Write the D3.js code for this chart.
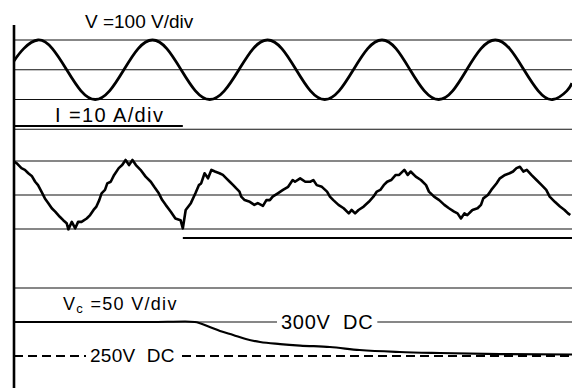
<!DOCTYPE html>
<html>
<head>
<meta charset="utf-8">
<script src="https://cdn.jsdelivr.net/npm/d3@7"></script>
<style>
  html, body { margin: 0; padding: 0; background: #fff; }
  text { font-family: "Liberation Sans", Arial, sans-serif; fill: #000; white-space: pre; }
</style>
</head>
<body>
<div id="chart"></div>
<script>
// time axis, ms (50 Hz supply -> 20 ms per cycle)
const timeRange = [0, 97.5]

// supply voltage, V (100 V/div)
const vTime = [0, 1.7, 4.2, 6.7, 9.2, 11.7, 14.2, 16.7, 19.2, 21.7, 24.2, 26.7, 29.2, 31.7, 34.2, 36.75, 39.3, 41.8, 44.3, 46.8, 49.3, 51.8, 54.3, 56.8, 59.3, 61.8, 64.3, 66.75, 69.2, 71.7, 74.2, 76.65, 79.1, 81.6, 84.1, 86.6, 89.1, 91.6, 94.1, 96.6, 97.5]
const vVolts = [30, 71, 100, 71, 0, -71, -100, -71, 0, 71, 100, 71, 0, -71, -100, -71, 0, 71, 100, 71, 0, -71, -100, -71, 0, 71, 100, 71, 0, -71, -100, -71, 0, 71, 100, 71, 0, -71, -100, -71, -45]

// line current, A (10 A/div)
const iTime = [0, 0.5, 1.3, 1.9, 2.5, 3.1, 3.7, 4.2, 4.8, 5.4, 6.0, 6.6, 7.2, 8.0, 8.6, 9.2, 9.5, 10.1, 10.7, 11.2, 11.8, 12.7, 13.3, 13.9, 14.4, 14.9, 15.3, 15.9,
  16.3, 16.9, 17.5, 18.3, 18.9, 19.5, 20.1, 20.7, 21.3, 22.1, 23.0, 23.9, 24.5, 25.3, 25.9, 26.5, 27.4, 28.2, 29.1, 29.5, 30.0, 30.9, 31.7, 32.3,
  32.7, 33.3, 33.9, 34.5, 35.1, 35.9, 36.5, 37.1, 37.7, 38.3, 38.8, 39.4, 39.7, 40.3, 41.2, 42.0, 42.6, 43.5, 44.1, 44.7, 45.2, 46.1, 47.0, 47.9, 48.7,
  49.1, 50.0, 50.9, 51.8, 52.3, 52.9, 53.8, 54.7, 55.2, 55.8, 56.7, 57.6, 58.5, 59.0, 59.6, 60.2, 61.1, 62.0, 62.8, 63.4, 64.0, 64.6, 65.2,
  65.9, 66.7, 67.3, 68.2, 68.8, 69.3, 70.2, 71.1, 72.0, 72.5, 73.4, 74.3, 75.2, 76.0, 76.9, 77.5, 78.1, 78.7, 79.2, 80.1, 81.0, 81.6,
  82.0, 82.8, 83.4, 84.3, 84.9, 85.8, 86.6, 87.2, 87.8, 88.4, 89.0, 89.6, 90.4, 91.3, 92.2, 93.0, 93.6, 94.5, 95.4, 96.2, 96.8, 97.2]
const iAmps = [9.8, 9.3, 7.9, 7.4, 6.4, 5.6, 3.9, 2.9, 1.0, -1.0, -2.4, -3.9, -4.9, -6.4, -7.4, -8.3, -10.1, -7.9, -9.8, -7.9, -7.9, -6.9, -5.9, -4.4, -3.4, -1.5, 0.5, 1.5,
  3.4, 3.9, 5.9, 7.9, 8.8, 10.3, 8.8, 10.3, 8.8, 7.4, 5.4, 3.9, 2.4, 0.5, -1.5, -2.9, -4.9, -6.9, -7.4, -9.8, -4.4, -2.4, 0.5, 2.9,
  3.4, 6.4, 4.9, 7.4, 6.9, 6.4, 5.9, 4.9, 3.9, 2.9, 2.0, 1.0, -0.5, -1.5, -2.0, -2.9, -2.4, -3.2, -1.5, -1.5, -0.5, 0.5, 1.5, 2.4, 4.4,
  3.9, 4.9, 3.9, 3.9, 4.4, 2.9, 2.4, 1.0, -0.5, -1.5, -2.9, -3.9, -5.4, -4.4, -5.4, -4.4, -3.4, -2.0, -0.5, 1.0, 1.5, 2.9, 3.9,
  4.4, 5.9, 5.9, 7.4, 5.9, 6.9, 5.4, 4.4, 2.9, 1.0, -0.5, -1.5, -2.9, -3.9, -4.9, -5.4, -6.9, -5.4, -5.9, -4.4, -3.9, -2.9,
  -1.0, 0, 1.5, 3.4, 4.9, 5.9, 6.4, 6.9, 7.9, 8.3, 6.9, 7.4, 5.9, 4.4, 2.9, 1.5, -0.5, -2.0, -3.4, -4.4, -5.4, -5.9]

// dc link voltage, V (50 V/div)
const vcTime = [0, 23.8, 29.9, 31.6, 34.2, 36.0, 38.3, 40.5, 43.0, 46.5, 50.0, 55.2, 60.4, 67.4, 74.4, 84.9, 97.5]
const vcVolts = [300, 300, 300.7, 300, 292.6, 286.8, 280.9, 275, 270.6, 267.6, 265.4, 263.2, 258.8, 255.9, 254.4, 252.9, 252.2]

// switching signal: on until the step, off afterwards
const gateTime = [0, 29.5, 97.5]
const gateLevel = [1, 0]

// grid divisions per channel
const vGrid = [100, 0, -100, -200]
const iGrid = [10, 0, -10]
const vcGrid = [350, 300]
const vcRef = 250

const width = 572, height = 388

const svg = d3.select('#chart').append('svg')
  .attr('width', width)
  .attr('height', height)

const x = d3.scaleLinear().domain(timeRange).range([14, 572])
const yV = d3.scaleLinear().domain([-100, 100]).range([99.5, 40])
const yI = d3.scaleLinear().domain([-10, 10]).range([229, 161])
const yVc = d3.scaleLinear().domain([250, 350]).range([356, 288])
const yGate = d3.scaleLinear().domain([0, 1]).range([238, 126])

// grid lines
const grid = svg.append('g').attr('stroke', '#111').attr('stroke-width', 1.2)
const gridRows = [].concat(vGrid.map(yV), iGrid.map(yI), vcGrid.map(yVc))
grid.selectAll('line')
  .data(gridRows)
  .enter().append('line')
  .attr('x1', x(timeRange[0]))
  .attr('x2', x(timeRange[1]))
  .attr('y1', d => d)
  .attr('y2', d => d)

// 250 V reference (dashed)
svg.append('line')
  .attr('x1', x(timeRange[0])).attr('x2', x(timeRange[1]))
  .attr('y1', yVc(vcRef)).attr('y2', yVc(vcRef))
  .attr('stroke', '#000').attr('stroke-width', 1.8)
  .attr('stroke-dasharray', '9,5')

// switching signal
svg.append('g').selectAll('line')
  .data(gateLevel)
  .enter().append('line')
  .attr('x1', (d, i) => x(gateTime[i]))
  .attr('x2', (d, i) => x(gateTime[i + 1]))
  .attr('y1', d => yGate(d))
  .attr('y2', d => yGate(d))
  .attr('stroke', '#000')
  .attr('stroke-width', 2.2)

// traces
const trace = (ts, vs, ys, curve, w) => {
  const line = d3.line()
    .x(d => x(d[0]))
    .y(d => ys(d[1]))
    .curve(curve)
  svg.append('path')
    .datum(d3.zip(ts, vs))
    .attr('d', line)
    .attr('fill', 'none')
    .attr('stroke', '#000')
    .attr('stroke-width', w)
    .attr('stroke-linejoin', 'round')
}
trace(vTime, vVolts, yV, d3.curveNatural, 2.8)
trace(iTime, iAmps, yI, d3.curveLinear, 2.6)
trace(vcTime, vcVolts, yVc, d3.curveMonotoneX, 2.2)

// left edge of the screen
svg.append('line')
  .attr('x1', x(0)).attr('x2', x(0))
  .attr('y1', 25).attr('y2', height)
  .attr('stroke', '#000').attr('stroke-width', 2.6)

// labels
svg.append('text').attr('x', 85).attr('y', 28).attr('font-size', 19).text('V =100 V/div')
svg.append('text').attr('x', 55).attr('y', 122).attr('font-size', 20)
  .attr('letter-spacing', 1.4).text('I =10 A/div')
const vcLabel = svg.append('text').attr('x', 63).attr('y', 310).attr('font-size', 18)
  .attr('letter-spacing', 1.3)
vcLabel.append('tspan').text('V')
vcLabel.append('tspan').attr('font-size', 13).attr('dy', 3).text('c')
vcLabel.append('tspan').attr('dy', -3).text(' =50 V/div')

// labels sitting on a line get a white patch behind them
const onLine = (tx, ty, size, spacing, str) => {
  const g = svg.append('g')
  const rect = g.append('rect').attr('fill', '#fff')
  const t = g.append('text').attr('x', tx).attr('y', ty)
    .attr('font-size', size).attr('letter-spacing', spacing).text(str)
  const b = t.node().getBBox()
  rect.attr('x', b.x - 4).attr('y', b.y).attr('width', b.width + 8).attr('height', b.height)
}
onLine(281, 329, 20, 0.7, '300V  DC')
onLine(90, 362, 19, 0.3, '250V  DC')
</script>
</body>
</html>
